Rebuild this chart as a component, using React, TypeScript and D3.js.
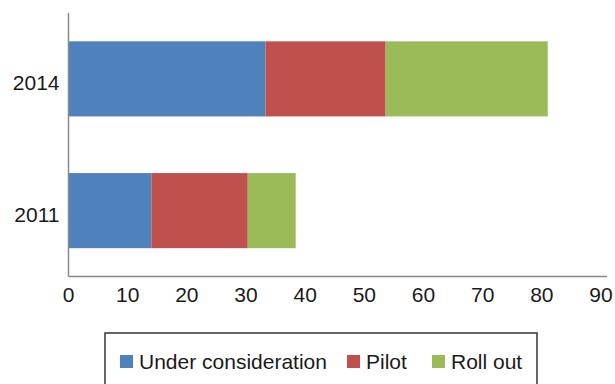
import React, { useRef, useEffect } from 'react';
import * as d3 from 'd3';

// data
const years = ['2014', '2011'];
const seriesNames = ['Under consideration', 'Pilot', 'Roll out'];
const underConsideration = [33.3, 14];
const pilot = [20.3, 16.3];
const rollOut = [27.4, 8.1];
const xTicks = [0, 10, 20, 30, 40, 50, 60, 70, 80, 90];

const colors = ['#4F81BD', '#C0504D', '#9BBB59'];

const App = () => {
  const svgRef = useRef<SVGSVGElement>(null);

  useEffect(() => {
    const svg = d3.select(svgRef.current);
    svg.selectAll('*').remove();

    const font = 'Liberation Sans, Arial, Helvetica, sans-serif';
    const left = 68.5;
    const right = 601;
    const top = 13;
    const bottom = 276.5;

    const rows = years.map((y, i) => ({
      year: y,
      'Under consideration': underConsideration[i],
      Pilot: pilot[i],
      'Roll out': rollOut[i],
    }));

    const x = d3.scaleLinear().domain([0, 90]).range([left, right]);
    const y = d3.scaleBand().domain(years).range([top, bottom])
      .paddingInner(0.43).paddingOuter(0.215);
    const color = d3.scaleOrdinal<string, string>().domain(seriesNames).range(colors);

    const stacked = d3.stack<any>().keys(seriesNames)(rows);

    // bars
    svg.append('g')
      .selectAll('g')
      .data(stacked)
      .enter()
      .append('g')
      .attr('fill', d => color(d.key))
      .selectAll('rect')
      .data(d => d)
      .enter()
      .append('rect')
      .attr('x', d => x(d[0]))
      .attr('y', d => y(d.data.year)!)
      .attr('width', d => x(d[1]) - x(d[0]))
      .attr('height', y.bandwidth());

    // axis lines
    svg.append('line')
      .attr('x1', left).attr('x2', left)
      .attr('y1', top).attr('y2', bottom)
      .attr('stroke', '#8a8a8a').attr('stroke-width', 1.5);
    svg.append('line')
      .attr('x1', left).attr('x2', 607)
      .attr('y1', bottom).attr('y2', bottom)
      .attr('stroke', '#8a8a8a').attr('stroke-width', 1.5);

    // x tick labels
    svg.append('g')
      .selectAll('text')
      .data(xTicks)
      .enter()
      .append('text')
      .attr('x', d => x(d))
      .attr('y', 302)
      .attr('text-anchor', 'middle')
      .attr('font-family', font)
      .attr('font-size', 21)
      .attr('fill', '#1a1a1a')
      .text(d => d);

    // y labels
    svg.append('g')
      .selectAll('text')
      .data(years)
      .enter()
      .append('text')
      .attr('x', 59.5)
      .attr('y', d => y(d)! + y.bandwidth() / 2 + 11)
      .attr('text-anchor', 'end')
      .attr('font-family', font)
      .attr('font-size', 21)
      .attr('fill', '#1a1a1a')
      .text(d => d);

    // legend
    const legend = svg.append('g');
    legend.append('rect')
      .attr('x', 105).attr('y', 333)
      .attr('width', 432).attr('height', 60)
      .attr('fill', 'none')
      .attr('stroke', '#333').attr('stroke-width', 1.5);

    const legendX = [120, 347, 432];
    seriesNames.forEach((name, i) => {
      legend.append('rect')
        .attr('x', legendX[i]).attr('y', 355)
        .attr('width', 13).attr('height', 13)
        .attr('fill', color(name));
      legend.append('text')
        .attr('x', legendX[i] + 19).attr('y', 369)
        .attr('font-family', font)
        .attr('font-size', 21)
        .attr('fill', '#1a1a1a')
        .text(name);
    });
  }, []);

  return (
    <svg
      ref={svgRef}
      width={615}
      height={384}
      style={{ position: 'absolute', left: 0, top: 0, background: '#fff' }}
    />
  );
};

export default App;
